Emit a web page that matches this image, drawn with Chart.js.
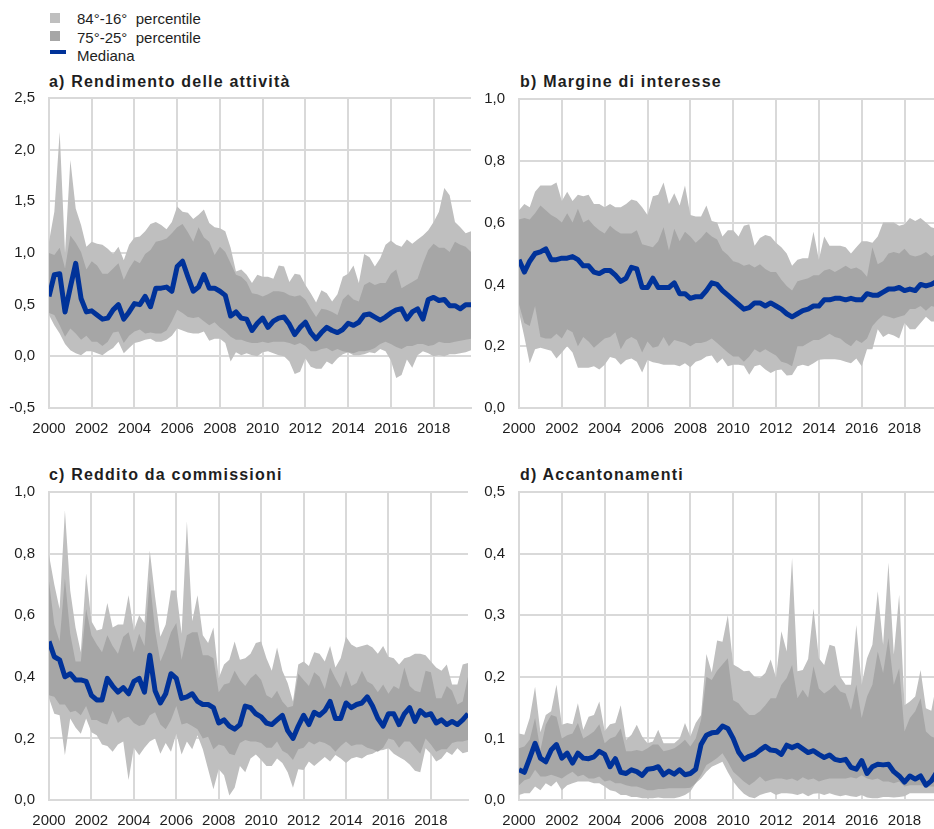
<!DOCTYPE html>
<html lang="it">
<head>
<meta charset="utf-8">
<title>Distribuzione degli indicatori di redditività bancaria</title>
<script src="https://cdn.jsdelivr.net/npm/chart.js@4.4.1/dist/chart.umd.min.js"></script>
<style>
  html, body { margin: 0; padding: 0; background: #ffffff; overflow: hidden; }
  #page {
    position: relative; width: 934px; height: 829px; overflow: hidden;
    font-family: "Liberation Sans", Arial, sans-serif; color: #1e1e1e;
  }
  canvas { position: absolute; }
  .title {
    position: absolute; font-weight: bold; font-size: 16px; line-height: 16px;
    letter-spacing: 1.2px; white-space: nowrap;
  }
  .legend-text {
    position: absolute; left: 77px; font-size: 15px; line-height: 15px; white-space: pre;
  }
  .swatch { position: absolute; left: 50px; width: 10px; height: 10px; }
  .swatch-line { position: absolute; left: 50px; width: 16px; height: 4px; }
</style>
</head>
<body>
<div id="page">
  <!-- legend -->
  <div class="swatch" id="swLight" style="top:13px"></div>
  <div class="legend-text" style="top:11px">84°-16°  percentile</div>
  <div class="swatch" id="swDark" style="top:31px"></div>
  <div class="legend-text" style="top:30px">75°-25°  percentile</div>
  <div class="swatch-line" id="swLine" style="top:50px"></div>
  <div class="legend-text" style="top:48px">Mediana</div>

  <!-- panel titles -->
  <div class="title" style="left:49px; top:74px">a) Rendimento delle attività</div>
  <div class="title" style="left:520px; top:74px">b) Margine di interesse</div>
  <div class="title" style="left:49px; top:467px">c) Reddito da commissioni</div>
  <div class="title" style="left:520px; top:467px">d) Accantonamenti</div>

  <canvas id="chartA" width="480" height="350" style="left:0px; top:88px"></canvas>
  <canvas id="chartB" width="482" height="349" style="left:470px; top:89px"></canvas>
  <canvas id="chartC" width="478" height="348" style="left:0px; top:482px"></canvas>
  <canvas id="chartD" width="482" height="348" style="left:470px; top:482px"></canvas>
</div>

<script>
// Quarterly observations, 2000 Q1 - 2019 Q4
const firstYear = 2000;
const lastYear = 2019;
const quarters = [];
for (let y = firstYear; y <= lastYear; y++) {
  for (let q = 0; q < 4; q++) quarters.push(y + q / 4);
}

// a) Rendimento delle attività
const aP84 = [1.11,1.40,2.17,1.00,1.90,1.43,1.27,1.06, 1.11,1.09,1.08,1.04,0.99,1.06,0.93,1.08,
              1.15,1.16,1.21,1.28,1.30,1.27,1.23,1.30, 1.45,1.40,1.39,1.33,1.37,1.42,1.29,1.25,
              1.24,1.21,1.05,0.82,0.84,0.79,0.71,0.79, 0.77,0.77,0.75,0.88,0.87,0.72,0.80,0.79,
              0.69,0.61,0.52,0.64,0.61,0.53,0.60,0.77, 0.80,0.88,0.71,0.99,0.96,0.87,0.95,1.08,
              1.12,1.08,1.06,1.13,1.09,1.13,1.17,1.22, 1.30,1.40,1.63,1.56,1.30,1.25,1.19,1.21];
const aP75 = [1.00,0.98,1.05,0.85,1.17,1.10,1.01,0.84, 0.92,0.88,0.80,0.80,0.85,0.90,0.74,0.85,
              0.93,0.90,0.99,1.03,1.11,1.12,1.14,1.19, 1.25,1.28,1.20,1.11,1.25,1.15,1.11,0.98,
              1.06,1.01,0.90,0.79,0.77,0.72,0.61,0.60, 0.58,0.60,0.63,0.63,0.62,0.59,0.58,0.59,
              0.55,0.46,0.38,0.46,0.45,0.43,0.40,0.55, 0.60,0.55,0.53,0.69,0.72,0.69,0.71,0.71,
              0.80,0.84,0.66,0.69,0.72,0.75,0.90,1.03, 1.09,1.05,1.05,1.01,1.11,1.08,1.06,1.01];
const aMedian = [0.58,0.79,0.80,0.43,0.67,0.90,0.56,0.43, 0.44,0.40,0.36,0.37,0.45,0.50,0.36,0.43,
              0.51,0.50,0.58,0.48,0.66,0.66,0.67,0.63, 0.87,0.92,0.77,0.63,0.67,0.79,0.66,0.66,
              0.63,0.59,0.39,0.43,0.37,0.36,0.25,0.32, 0.37,0.28,0.34,0.37,0.38,0.31,0.21,0.28,
              0.33,0.23,0.17,0.23,0.28,0.25,0.23,0.26, 0.32,0.30,0.33,0.40,0.41,0.38,0.35,0.38,
              0.42,0.45,0.46,0.36,0.43,0.46,0.36,0.55, 0.57,0.54,0.55,0.49,0.49,0.46,0.50,0.50];
const aP25 = [0.42,0.40,0.30,0.19,0.27,0.22,0.16,0.20, 0.14,0.14,0.10,0.14,0.23,0.24,0.13,0.20,
              0.24,0.26,0.22,0.23,0.22,0.22,0.25,0.34, 0.45,0.42,0.38,0.37,0.38,0.34,0.30,0.33,
              0.28,0.24,0.19,0.16,0.16,0.14,0.13,0.13, 0.14,0.13,0.14,0.14,0.14,0.13,0.11,0.13,
              0.10,0.05,0.05,0.07,0.08,0.05,0.07,0.05, 0.04,0.03,0.05,0.05,0.06,0.08,0.12,0.14,
              0.12,0.09,0.07,0.10,0.10,0.12,0.12,0.10, 0.11,0.14,0.13,0.13,0.14,0.15,0.16,0.17];
const aP16 = [0.40,0.30,0.22,0.12,0.06,0.03,0.01,0.05, 0.05,0.03,0.01,0.05,0.08,0.14,0.03,0.08,
              0.13,0.14,0.16,0.17,0.14,0.14,0.16,0.20, 0.27,0.25,0.23,0.22,0.22,0.24,0.15,0.17,
              0.17,0.13,-0.05,0.04,0.01,0.03,0.01,0.00, 0.04,0.05,0.03,0.01,0.00,-0.05,-0.17,-0.15,
              -0.02,-0.10,-0.12,-0.12,-0.05,-0.08,-0.02,0.02, 0.04,0.01,0.01,0.02,0.04,0.03,0.07,0.05,
              -0.04,-0.21,-0.18,-0.03,-0.11,0.01,0.05,0.03, 0.00,0.01,0.00,0.02,0.02,0.03,0.04,0.06];

// b) Margine di interesse
const bP84 = [0.64,0.66,0.65,0.70,0.72,0.72,0.72,0.73, 0.67,0.70,0.67,0.69,0.685,0.69,0.66,0.66,
              0.65,0.66,0.65,0.65,0.66,0.675,0.67,0.65, 0.625,0.685,0.69,0.73,0.66,0.695,0.655,0.72,
              0.625,0.62,0.62,0.655,0.605,0.60,0.555,0.575, 0.575,0.555,0.59,0.595,0.525,0.55,0.56,0.555,
              0.535,0.52,0.50,0.46,0.48,0.485,0.485,0.57, 0.48,0.555,0.525,0.525,0.525,0.52,0.50,0.52,
              0.54,0.54,0.535,0.555,0.60,0.60,0.60,0.59, 0.595,0.615,0.605,0.615,0.60,0.585,0.58,0.58];
const bP75 = [0.61,0.615,0.61,0.63,0.655,0.64,0.625,0.615, 0.60,0.63,0.60,0.645,0.60,0.61,0.59,0.575,
              0.565,0.59,0.575,0.565,0.565,0.565,0.575,0.53, 0.525,0.52,0.54,0.585,0.51,0.58,0.54,0.57,
              0.555,0.535,0.55,0.57,0.555,0.545,0.51,0.495, 0.475,0.47,0.46,0.465,0.455,0.465,0.45,0.44,
              0.44,0.415,0.395,0.38,0.41,0.415,0.42,0.43, 0.43,0.445,0.45,0.44,0.45,0.46,0.45,0.455,
              0.445,0.425,0.52,0.465,0.475,0.50,0.505,0.50, 0.515,0.495,0.49,0.495,0.505,0.49,0.50,0.50];
const bMedian = [0.48,0.44,0.475,0.50,0.505,0.515,0.48,0.48, 0.485,0.485,0.49,0.48,0.46,0.46,0.44,0.435,
              0.445,0.445,0.43,0.41,0.42,0.455,0.45,0.39, 0.39,0.42,0.39,0.39,0.39,0.405,0.37,0.37,
              0.355,0.36,0.36,0.38,0.405,0.40,0.38,0.365, 0.35,0.335,0.32,0.325,0.34,0.34,0.33,0.34,
              0.33,0.32,0.305,0.295,0.305,0.315,0.32,0.33, 0.33,0.35,0.35,0.355,0.355,0.35,0.355,0.35,
              0.35,0.37,0.365,0.365,0.375,0.385,0.385,0.39, 0.38,0.385,0.38,0.40,0.395,0.40,0.41,0.41];
const bP25 = [0.335,0.275,0.265,0.33,0.23,0.225,0.225,0.24, 0.225,0.255,0.245,0.20,0.23,0.215,0.195,0.21,
              0.225,0.23,0.245,0.19,0.22,0.23,0.22,0.18, 0.215,0.195,0.20,0.23,0.20,0.22,0.215,0.21,
              0.20,0.21,0.21,0.215,0.225,0.21,0.195,0.18, 0.167,0.167,0.15,0.167,0.19,0.18,0.19,0.18,
              0.17,0.15,0.145,0.135,0.20,0.20,0.21,0.22, 0.22,0.23,0.24,0.23,0.225,0.21,0.20,0.22,
              0.21,0.225,0.265,0.285,0.30,0.295,0.29,0.295, 0.30,0.32,0.32,0.33,0.315,0.33,0.325,0.325];
const bP16 = [0.31,0.23,0.145,0.19,0.195,0.19,0.185,0.16, 0.18,0.20,0.18,0.13,0.13,0.13,0.135,0.125,
              0.14,0.165,0.16,0.14,0.155,0.16,0.15,0.115, 0.155,0.148,0.145,0.14,0.14,0.14,0.135,0.145,
              0.132,0.15,0.155,0.167,0.17,0.145,0.16,0.135, 0.14,0.14,0.137,0.108,0.135,0.14,0.125,0.113,
              0.122,0.125,0.105,0.107,0.135,0.14,0.135,0.145, 0.156,0.158,0.158,0.158,0.155,0.15,0.145,0.16,
              0.135,0.19,0.19,0.255,0.23,0.24,0.235,0.225, 0.275,0.255,0.255,0.275,0.295,0.28,0.28,0.28];

// c) Reddito da commissioni
const cP84 = [0.795,0.70,0.62,0.94,0.68,0.56,0.48,0.735, 0.58,0.55,0.555,0.64,0.56,0.57,0.57,0.665,
              0.55,0.60,0.575,0.81,0.66,0.53,0.57,0.68, 0.68,0.54,0.905,0.58,0.665,0.535,0.51,0.56,
              0.395,0.44,0.455,0.515,0.455,0.46,0.475,0.51, 0.515,0.46,0.42,0.495,0.42,0.38,0.32,0.44,
              0.45,0.435,0.48,0.475,0.45,0.50,0.43,0.46, 0.53,0.505,0.495,0.50,0.505,0.495,0.475,0.50,
              0.465,0.46,0.44,0.46,0.465,0.475,0.475,0.47, 0.45,0.43,0.42,0.44,0.375,0.375,0.44,0.445];
const cP75 = [0.71,0.57,0.515,0.72,0.54,0.45,0.45,0.62, 0.535,0.505,0.48,0.535,0.50,0.475,0.53,0.545,
              0.48,0.54,0.50,0.715,0.55,0.45,0.49,0.545, 0.575,0.455,0.535,0.545,0.545,0.47,0.47,0.46,
              0.35,0.375,0.38,0.42,0.39,0.37,0.395,0.41, 0.39,0.34,0.33,0.355,0.32,0.30,0.305,0.41,
              0.39,0.37,0.415,0.40,0.36,0.43,0.395,0.365, 0.42,0.37,0.38,0.42,0.385,0.375,0.35,0.375,
              0.345,0.37,0.36,0.43,0.37,0.355,0.35,0.42, 0.415,0.33,0.33,0.37,0.355,0.31,0.32,0.40];
const cMedian = [0.515,0.465,0.455,0.40,0.41,0.39,0.39,0.385, 0.34,0.325,0.325,0.395,0.37,0.35,0.365,0.345,
              0.385,0.395,0.35,0.47,0.355,0.315,0.345,0.41, 0.395,0.33,0.335,0.345,0.32,0.31,0.31,0.30,
              0.25,0.26,0.24,0.23,0.245,0.305,0.30,0.28, 0.27,0.25,0.245,0.26,0.275,0.225,0.20,0.24,
              0.275,0.245,0.285,0.275,0.29,0.32,0.265,0.265, 0.315,0.30,0.31,0.315,0.335,0.305,0.265,0.24,
              0.28,0.28,0.245,0.28,0.30,0.255,0.29,0.275, 0.28,0.25,0.26,0.245,0.255,0.245,0.26,0.28];
const cP25 = [0.34,0.335,0.31,0.31,0.285,0.29,0.275,0.305, 0.26,0.26,0.25,0.245,0.29,0.25,0.265,0.27,
              0.25,0.24,0.245,0.275,0.285,0.245,0.23,0.26, 0.305,0.245,0.25,0.24,0.23,0.20,0.205,0.165,
              0.18,0.175,0.15,0.145,0.185,0.195,0.19,0.19, 0.185,0.17,0.17,0.19,0.16,0.15,0.13,0.165,
              0.17,0.19,0.18,0.19,0.185,0.175,0.157,0.175, 0.19,0.175,0.18,0.18,0.17,0.165,0.157,0.17,
              0.20,0.195,0.17,0.19,0.19,0.17,0.15,0.20, 0.18,0.157,0.165,0.165,0.185,0.19,0.19,0.195];
const cP16 = [0.33,0.28,0.275,0.145,0.265,0.235,0.215,0.265, 0.22,0.21,0.18,0.175,0.157,0.18,0.19,0.065,
              0.17,0.145,0.17,0.19,0.20,0.15,0.185,0.157, 0.215,0.148,0.19,0.165,0.21,0.165,0.10,0.035,
              0.10,0.08,0.015,0.04,0.11,0.09,0.135,0.148, 0.13,0.11,0.11,0.135,0.12,0.09,0.04,0.10,
              0.097,0.125,0.11,0.125,0.14,0.125,0.146,0.135, 0.12,0.135,0.14,0.135,0.146,0.15,0.16,0.162,
              0.168,0.15,0.14,0.13,0.115,0.095,0.09,0.168, 0.15,0.125,0.135,0.157,0.146,0.168,0.152,0.157];

// d) Accantonamenti
const dP84 = [0.108,0.106,0.133,0.184,0.11,0.138,0.144,0.187, 0.122,0.125,0.123,0.157,0.114,0.135,0.138,0.16,
              0.112,0.123,0.125,0.154,0.098,0.106,0.122,0.103, 0.092,0.095,0.114,0.092,0.092,0.092,0.10,0.125,
              0.103,0.125,0.138,0.237,0.207,0.259,0.257,0.30, 0.22,0.215,0.209,0.21,0.20,0.198,0.206,0.228,
              0.199,0.274,0.241,0.393,0.209,0.211,0.229,0.311, 0.23,0.219,0.252,0.249,0.20,0.187,0.187,0.284,
              0.187,0.23,0.252,0.339,0.252,0.385,0.236,0.333, 0.154,0.16,0.168,0.211,0.149,0.145,0.19,0.17];
const dP75 = [0.084,0.087,0.098,0.133,0.081,0.122,0.138,0.135, 0.10,0.105,0.108,0.125,0.10,0.105,0.111,0.123,
              0.092,0.10,0.103,0.116,0.079,0.079,0.081,0.079, 0.084,0.09,0.09,0.079,0.081,0.084,0.09,0.098,
              0.087,0.10,0.13,0.20,0.195,0.21,0.22,0.23, 0.162,0.157,0.146,0.138,0.138,0.144,0.154,0.165,
              0.165,0.187,0.198,0.219,0.165,0.179,0.166,0.217, 0.181,0.173,0.179,0.187,0.176,0.173,0.146,0.187,
              0.133,0.168,0.187,0.241,0.206,0.263,0.187,0.214, 0.111,0.133,0.144,0.165,0.111,0.103,0.10,0.10];
const dMedian = [0.049,0.045,0.068,0.092,0.068,0.062,0.081,0.09, 0.068,0.076,0.06,0.076,0.068,0.067,0.07,0.079,
              0.074,0.054,0.067,0.045,0.043,0.049,0.046,0.04, 0.05,0.051,0.054,0.041,0.047,0.042,0.049,0.041,
              0.043,0.05,0.09,0.105,0.109,0.11,0.12,0.116, 0.10,0.078,0.066,0.071,0.074,0.081,0.087,0.081,
              0.08,0.074,0.089,0.085,0.089,0.083,0.077,0.08, 0.074,0.069,0.073,0.066,0.064,0.066,0.053,0.05,
              0.064,0.043,0.054,0.058,0.057,0.058,0.046,0.039, 0.029,0.039,0.034,0.039,0.024,0.031,0.045,0.05];
const dP25 = [0.024,0.032,0.035,0.049,0.038,0.038,0.041,0.038, 0.035,0.041,0.046,0.038,0.041,0.035,0.035,0.038,
              0.03,0.032,0.027,0.027,0.024,0.022,0.022,0.019, 0.016,0.016,0.018,0.018,0.019,0.019,0.019,0.019,
              0.02,0.027,0.04,0.057,0.062,0.068,0.076,0.062, 0.046,0.038,0.03,0.024,0.03,0.038,0.03,0.033,
              0.035,0.035,0.033,0.035,0.031,0.037,0.033,0.035, 0.03,0.033,0.035,0.035,0.035,0.035,0.037,0.035,
              0.04,0.035,0.033,0.035,0.03,0.03,0.027,0.03, 0.022,0.024,0.024,0.024,0.022,0.022,0.022,0.022];
const dP16 = [0.008,0.011,0.011,0.022,0.016,0.027,0.022,0.03, 0.016,0.024,0.027,0.03,0.03,0.03,0.027,0.027,
              0.022,0.016,0.014,0.008,0.008,0.005,0.005,0.003, 0.003,0.003,0.004,0.003,0.003,0.003,0.005,0.008,
              0.014,0.027,0.035,0.046,0.054,0.058,0.062,0.045, 0.03,0.019,0.01,0.005,0.003,0.008,0.011,0.013,
              0.008,0.011,0.011,0.01,0.008,0.011,0.006,0.01, 0.011,0.008,0.011,0.008,0.006,0.008,0.006,0.005,
              0.008,0.004,0.003,0.003,0.005,0.005,0.004,0.005, 0.006,0.011,0.011,0.011,0.011,0.011,0.011,0.011];

// Axis tick settings
const xTickStep = 2;
const aTicks = { min: -0.5, max: 2.5, step: 0.5 };
const bTicks = { min: 0, max: 1.0, step: 0.2 };
const cTicks = { min: 0, max: 1.0, step: 0.2 };
const dTicks = { min: 0, max: 0.5, step: 0.1 };

// Styling
const FONT = '"Liberation Sans", Arial, sans-serif';
const TEXT = '#1e1e1e';
const GRID = '#d9d9d9';
const LIGHT = '#bfbfbf';
const DARK = '#a6a6a6';
const BLUE = '#003299';

document.getElementById('swLight').style.background = LIGHT;
document.getElementById('swDark').style.background = DARK;
document.getElementById('swLine').style.background = BLUE;

Chart.defaults.font.family = FONT;
Chart.defaults.color = TEXT;

function points(values) {
  return values.map((v, i) => ({ x: quarters[i], y: v }));
}

function band(label, values, fillTarget, color, order) {
  return {
    label: label,
    data: points(values),
    fill: fillTarget === null ? false : fillTarget,
    backgroundColor: color || 'transparent',
    borderColor: 'transparent',
    borderWidth: 0,
    pointRadius: 0,
    pointHoverRadius: 0,
    tension: 0,
    order: order
  };
}

function drawPanel(canvasId, p84, p75, median, p25, p16, yTicks, rightPad) {
  new Chart(document.getElementById(canvasId), {
    type: 'line',
    data: {
      datasets: [
        {
          label: 'Mediana',
          data: points(median),
          borderColor: BLUE,
          borderWidth: 5,
          borderJoinStyle: 'round',
          pointRadius: 0,
          pointHoverRadius: 0,
          tension: 0,
          fill: false,
          order: 0
        },
        band('75°-25° percentile', p75, 2, DARK, 1),
        band('25° percentile', p25, null, null, 3),
        band('84°-16° percentile', p84, 4, LIGHT, 2),
        band('16° percentile', p16, null, null, 3)
      ]
    },
    options: {
      responsive: false,
      devicePixelRatio: 1,
      animation: false,
      events: [],
      layout: { padding: { top: 10, right: rightPad, bottom: 0, left: 0 } },
      plugins: {
        legend: { display: false },
        tooltip: { enabled: false }
      },
      scales: {
        x: {
          type: 'linear',
          min: firstYear,
          max: lastYear + 0.75,
          grid: { color: GRID, lineWidth: 2, drawTicks: false },
          border: { color: GRID, width: 2 },
          ticks: {
            stepSize: xTickStep,
            includeBounds: false,
            autoSkip: false,
            maxRotation: 0,
            padding: 12,
            color: TEXT,
            font: { size: 15, family: FONT },
            callback: v => String(Math.round(v))
          },
          afterFit: s => { s.height = 30; }
        },
        y: {
          min: yTicks.min,
          max: yTicks.max,
          grid: { color: GRID, lineWidth: 2, drawTicks: false },
          border: { color: GRID, width: 2 },
          ticks: {
            stepSize: yTicks.step,
            padding: 14,
            color: TEXT,
            font: { size: 15, family: FONT },
            callback: v => Number(v).toFixed(1).replace('.', ',')
          },
          afterFit: s => {
            s.width = 49;
            // keep only half a label height above and below the plot area
            s.paddingTop = 9;
            s.paddingBottom = 9;
          }
        }
      }
    }
  });
}

drawPanel('chartA', aP84, aP75, aMedian, aP25, aP16, aTicks, 9);
drawPanel('chartB', bP84, bP75, bMedian, bP25, bP16, bTicks, 10);
drawPanel('chartC', cP84, cP75, cMedian, cP25, cP16, cTicks, 10);
drawPanel('chartD', dP84, dP75, dMedian, dP25, dP16, dTicks, 10);
</script>
</body>
</html>
